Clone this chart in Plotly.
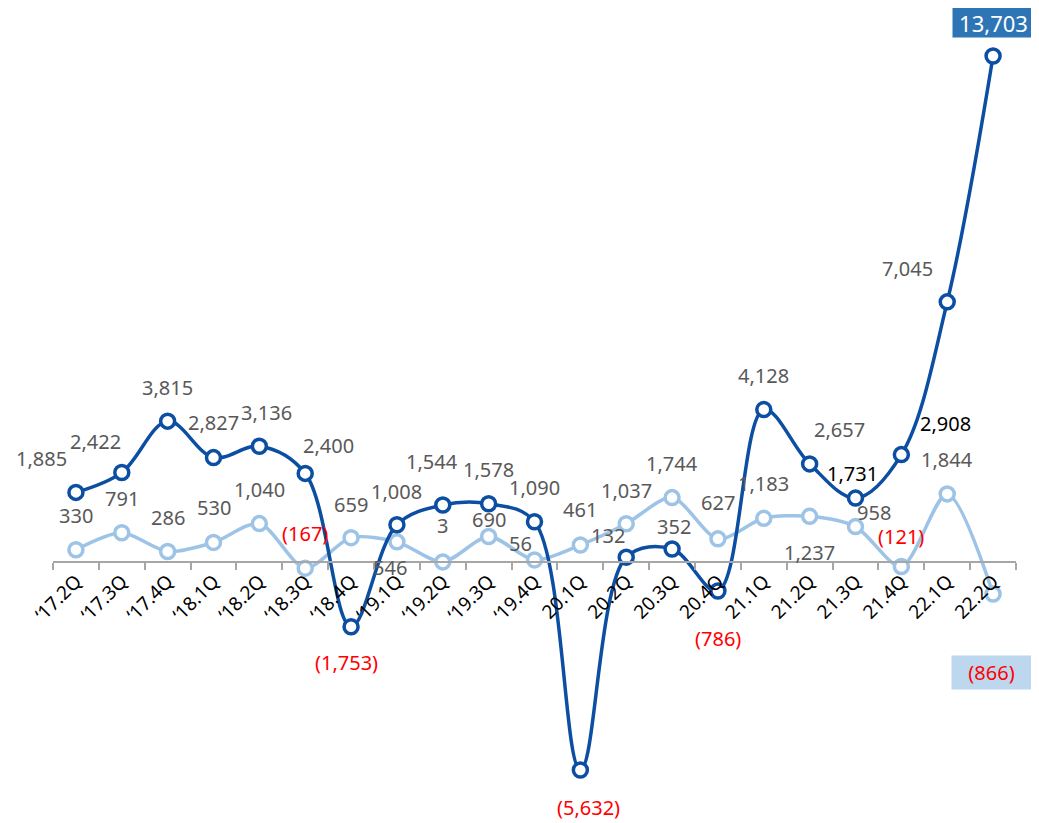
import plotly.graph_objects as go

# ---------------- data ----------------
categories = ["‘17.2Q", "‘17.3Q", "‘17.4Q", "‘18.1Q", "‘18.2Q", "‘18.3Q", "‘18.4Q",
              "‘19.1Q", "‘19.2Q", "‘19.3Q", "‘19.4Q", "20.1Q", "20.2Q", "20.3Q",
              "20.4Q", "21.1Q", "21.2Q", "21.3Q", "21.4Q", "22.1Q", "22.2Q"]
dark_values = [1885, 2422, 3815, 2827, 3136, 2400, -1753, 1008, 1544, 1578, 1090,
               -5632, 132, 352, -786, 4128, 2657, 1731, 2908, 7045, 13703]
light_values = [330, 791, 286, 530, 1040, -167, 659, 546, 3, 690, 56,
                461, 1037, 1744, 627, 1183, 1237, 958, -121, 1844, -866]

# ---------------- styles ----------------
DARK = "#0B4EA2"
LIGHT = "#9DC3E6"
GRAY = "#595959"
RED = "#FF0000"
FONT = "Noto Sans"
PAGE_OFF = 8          # browser body margin
W, H = 1039 - PAGE_OFF, 823 - PAGE_OFF

# label offsets in screen pixels (dx right, dy down)
dark_off = [(-34, -34), (-26, -31), (0, -34), (0, -35), (7, -34), (23, -28), (-5, 36),
            (0, -33), (-11, -43), (0, -34), (0, -34), (8, 38), (-18, -22), (2, -23),
            (0, 47), (0, -34), (30, -34), (-3, -25), (44, -31), (-40, -33), (0, -33.5)]
light_off = [(0, -34), (0, -34), (0, -34), (0, -35), (0, -34), (0, -35), (0, -33),
             (-7, 26), (0, -36), (0, -17), (-14, -16), (0, -35), (0, -33), (0, -34),
             (0, -36), (0, -35), (0, 36), (18, -14), (0, -30), (0, -34), (-2, 79)]


def fmt(v):
    return f"({abs(v):,})" if v < 0 else f"{v:,}"


fig = go.Figure()
fig.add_trace(go.Scatter(
    x=categories, y=light_values, mode="lines+markers",
    line=dict(color=LIGHT, width=3.5, shape="spline", smoothing=0.8),
    marker=dict(symbol="circle", size=14, color="white", line=dict(color=LIGHT, width=3.5)),
    cliponaxis=False, hoverinfo="skip"))
fig.add_trace(go.Scatter(
    x=categories, y=dark_values, mode="lines+markers",
    line=dict(color=DARK, width=3.5, shape="spline", smoothing=1.0),
    marker=dict(symbol="circle", size=14, color="white", line=dict(color=DARK, width=3.5)),
    cliponaxis=False, hoverinfo="skip"))

annotations = []
for i, (c, v) in enumerate(zip(categories, light_values)):
    dx, dy = light_off[i]
    a = dict(x=c, y=v, xref="x", yref="y", text=fmt(v), showarrow=False,
             xshift=dx, yshift=-dy,
             font=dict(family=FONT, size=20, color=RED if v < 0 else GRAY))
    if i == len(categories) - 1:
        a.update(bgcolor="#BDD7EE", width=77, height=31, borderpad=1)
    annotations.append(a)
for i, (c, v) in enumerate(zip(categories, dark_values)):
    dx, dy = dark_off[i]
    color = RED if v < 0 else GRAY
    if categories[i] in ("21.3Q", "21.4Q"):
        color = "#000000"
    a = dict(x=c, y=v, xref="x", yref="y", text=fmt(v), showarrow=False,
             xshift=dx, yshift=-dy, font=dict(family=FONT, size=20, color=color))
    if i == len(categories) - 1:
        a.update(bgcolor="#2E75B6", width=79, height=27, borderpad=1,
                 font=dict(family=FONT, size=22, color="white"))
    annotations.append(a)

# y range so that 0 sits at screen pixel 562 and 13,703 at screen pixel 56
zero_px = 562 - PAGE_OFF
top_px = 56 - PAGE_OFF
px_per_unit = (zero_px - top_px) / 13703
ymax = zero_px / px_per_unit
ymin = -(H - zero_px) / px_per_unit

fig.update_layout(
    width=W, height=H,
    margin=dict(l=0, r=0, t=0, b=0),
    paper_bgcolor="white", plot_bgcolor="white",
    showlegend=False,
    annotations=annotations,
    xaxis=dict(type="category", range=[-0.5, 20.5],
               domain=[(53 - PAGE_OFF) / W, (1016 - PAGE_OFF) / W],
               anchor="free", position=(H - zero_px) / H,
               showline=True, linecolor="#A6A6A6", linewidth=1.5,
               showgrid=False, zeroline=False,
               ticks="outside", tickson="boundaries", ticklen=7, tickcolor="#A6A6A6",
               tickwidth=1.5, tickangle=-45,
               tickfont=dict(family=FONT, size=19, color="black"), automargin=False),
    yaxis=dict(range=[ymin, ymax], visible=False, showgrid=False, zeroline=False,
               domain=[0, 1], automargin=False),
)

fig.write_html("out.html")
